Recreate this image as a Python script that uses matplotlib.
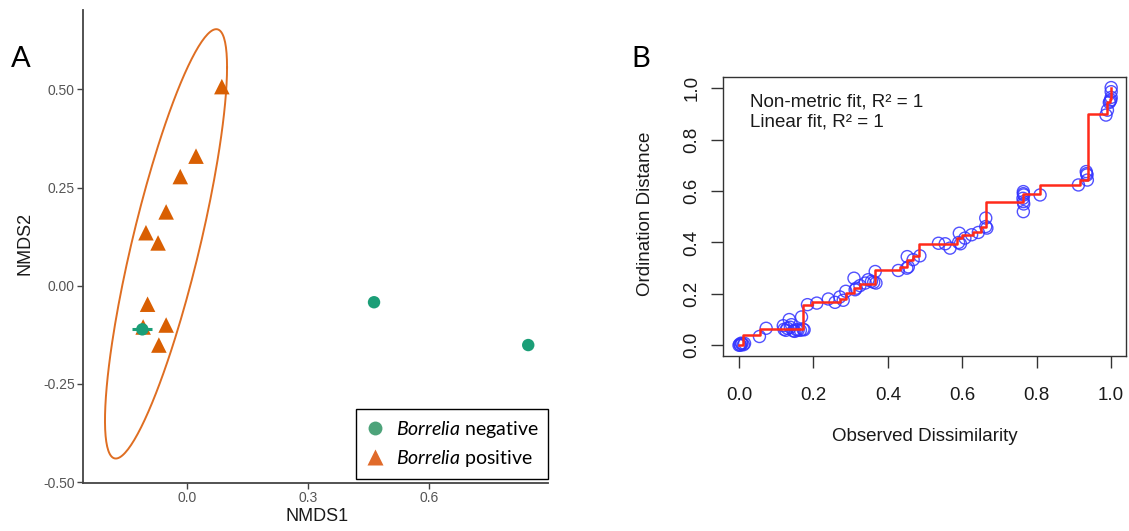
import numpy as np
import matplotlib
matplotlib.use('Agg')
import matplotlib.pyplot as plt
from matplotlib.lines import Line2D

plt.rcParams['font.family'] = ['Liberation Sans', 'DejaVu Sans']
plt.rcParams['mathtext.fontset'] = 'custom'
plt.rcParams['mathtext.rm'] = 'Lato'
plt.rcParams['mathtext.it'] = 'Lato:italic'

# panel A: NMDS scores
neg_x = [-0.110, 0.464, 0.846]
neg_y = [-0.111, -0.042, -0.151]
pos_x = [0.087, 0.023, -0.016, -0.051, -0.101, -0.071, -0.097, -0.051, -0.108, -0.069]
pos_y = [0.507, 0.330, 0.278, 0.188, 0.135, 0.109, -0.047, -0.100, -0.105, -0.151]

# panel B: Shepard diagram
obs_diss = [0.000, 0.002, 0.004, 0.008, 0.012, 0.015, 0.006,
            0.055, 0.073,
            0.119, 0.121, 0.126, 0.130, 0.135, 0.138, 0.141, 0.146, 0.150, 0.155, 0.159, 0.165, 0.168, 0.172, 0.175,
            0.184, 0.209, 0.240, 0.258, 0.271, 0.280, 0.287, 0.309, 0.312, 0.315, 0.325, 0.339, 0.347, 0.356,
            0.366, 0.368, 0.362,
            0.428, 0.451, 0.452, 0.455, 0.468, 0.486,
            0.536, 0.554, 0.567, 0.590, 0.592, 0.595, 0.607, 0.625, 0.643, 0.663, 0.663, 0.666,
            0.764, 0.764, 0.765, 0.763, 0.764, 0.765, 0.764,
            0.809,
            0.912, 0.933, 0.935, 0.936, 0.934,
            0.986, 0.990, 0.995, 0.999, 1.000, 1.000, 1.000, 0.997]
ord_dist = [0.000, 0.004, 0.000, 0.006, 0.002, 0.007, 0.008,
            0.034, 0.066,
            0.076, 0.062, 0.058, 0.066, 0.100, 0.070, 0.080, 0.056, 0.054, 0.060, 0.060, 0.058, 0.110, 0.062, 0.060,
            0.158, 0.164, 0.180, 0.167, 0.188, 0.175, 0.210, 0.261, 0.216, 0.222, 0.232, 0.242, 0.255, 0.249,
            0.287, 0.242, 0.245,
            0.291, 0.300, 0.345, 0.305, 0.333, 0.348,
            0.397, 0.395, 0.378, 0.400, 0.436, 0.395, 0.417, 0.430, 0.439, 0.495, 0.462, 0.456,
            0.598, 0.590, 0.585, 0.572, 0.559, 0.550, 0.520,
            0.585,
            0.624, 0.676, 0.663, 0.643, 0.668,
            0.896, 0.915, 0.945, 0.955, 0.987, 1.003, 0.965, 0.950]
step_x = [0.000, 0.012, 0.056, 0.171, 0.195, 0.271, 0.287, 0.309, 0.325, 0.366, 0.433, 0.451, 0.468,
          0.484, 0.585, 0.600, 0.630, 0.650, 0.663, 0.764, 0.809, 0.917, 0.937, 0.988, 0.997, 1.000]
step_y = [0.000, 0.038, 0.064, 0.158, 0.167, 0.180, 0.203, 0.223, 0.240, 0.291, 0.304, 0.333, 0.348,
          0.394, 0.417, 0.430, 0.440, 0.462, 0.559, 0.588, 0.623, 0.643, 0.899, 0.948, 0.960, 1.000]

green = '#1B9E77'
orange = '#D95F02'


def cov_trob(pts, nu=5, maxit=25, tol=0.01):
    # robust t covariance like MASS::cov.trob
    n, p = pts.shape
    loc = pts.mean(0)
    w = np.ones(n)
    for i in range(maxit):
        w0 = w
        X = pts - loc
        U, d, Vt = np.linalg.svd(np.sqrt(w / w.sum())[:, None] * X, full_matrices=False)
        wX = X @ Vt.T / d
        Q = (wX ** 2).sum(1)
        w = (nu + p) / (nu + Q)
        loc = (w[:, None] * pts).sum(0) / w.sum()
        if np.all(np.abs(w - w0) < tol):
            break
    cov = (w[:, None] * X).T @ X / n
    return loc, cov


fig = plt.figure(figsize=(11.29, 5.31), dpi=100)

# ---- panel A ----
axA = fig.add_axes([0.0735, 0.0913, 0.4119, 0.8898])
pts = np.column_stack([pos_x, pos_y])
center, shape = cov_trob(pts)
radius = np.sqrt(2 * 4.256495)  # qf(0.95, 2, n-1) with n = 10
t = np.linspace(0, 2 * np.pi, 200)
circle = np.column_stack([np.cos(t), np.sin(t)])
L = np.linalg.cholesky(shape)
ell = center + radius * circle @ L.T
axA.plot(ell[:, 0], ell[:, 1], color='#DF6E22', lw=1.4, zorder=1)

axA.scatter(pos_x, pos_y, marker='^', s=125, color=orange, edgecolors='none', zorder=2)
axA.scatter(neg_x, neg_y, marker='o', s=80, color=green, edgecolors='none', zorder=3)
axA.plot(neg_x[0], neg_y[0], marker='_', ms=14, mew=2.2, color=green, zorder=4)

axA.set_xlim(-0.257, 0.895)
axA.set_ylim(-0.501, 0.702)
axA.set_xticks([0.0, 0.3, 0.6])
axA.set_xticklabels(['0.0', '0.3', '0.6'])
axA.set_yticks([-0.5, -0.25, 0.0, 0.25, 0.5])
axA.set_yticklabels(['-0.50', '-0.25', '0.00', '0.25', '0.50'])
for s in ['top', 'right']:
    axA.spines[s].set_visible(False)
for s in ['left', 'bottom']:
    axA.spines[s].set_color('#444444')
    axA.spines[s].set_linewidth(1.3)
axA.tick_params(length=4, width=1, color='#444444', labelcolor='#555555', labelsize=10, pad=2)
axA.set_xlabel('NMDS1', fontsize=13, color='#1a1a1a', va='center')
axA.set_ylabel('NMDS2', fontsize=13, color='#1a1a1a', va='center')
axA.xaxis.set_label_coords(0.5026, -0.0724)
axA.yaxis.set_label_coords(-0.1247, 0.507)

handles = [Line2D([], [], marker='o', ls='none', ms=10, color='#4DA37A', mec='none'),
           Line2D([], [], marker='^', ls='none', ms=12, color='#E06A2A', mec='none')]
leg = axA.legend(handles, [r'$\it{Borrelia}$ negative', r'$\it{Borrelia}$ positive'],
                 loc='lower right', bbox_to_anchor=(1.0, 0.0075), borderaxespad=0,
                 prop={'family': 'Lato', 'size': 14}, fancybox=False, framealpha=1,
                 edgecolor='black', handletextpad=0.55, handlelength=1.0, labelspacing=0.42,
                 borderpad=0.5)
leg.get_frame().set_linewidth(1.0)

fig.text(21 / 1129, 1 - 59 / 531, 'A', fontsize=21, family='Lato', ha='center', va='center')
fig.text(641 / 1129, 1 - 59 / 531, 'B', fontsize=21, family='Lato', ha='center', va='center')

# ---- panel B ----
axB = fig.add_axes([0.6407, 0.3305, 0.3567, 0.5239])
axB.scatter(obs_diss, ord_dist, s=75, facecolors='none', edgecolors='#3333FF', linewidths=1.0,
            alpha=0.85, zorder=2)
axB.plot(step_x, step_y, drawstyle='steps-post', color='#FF2A1A', lw=1.8, zorder=3)
axB.set_xlim(-0.042, 1.040)
axB.set_ylim(-0.040, 1.043)
axB.set_xticks([0.0, 0.2, 0.4, 0.6, 0.8, 1.0])
axB.set_xticklabels(['0.0', '0.2', '0.4', '0.6', '0.8', '1.0'])
axB.set_yticks([0.0, 0.2, 0.4, 0.6, 0.8, 1.0])
axB.set_yticklabels(['0.0', '0.2', '0.4', '0.6', '0.8', '1.0'], rotation=90, va='center')
for s in axB.spines.values():
    s.set_color('#333333')
    s.set_linewidth(1.0)
axB.tick_params(length=8.4, width=1, color='#333333', labelsize=13.5, labelcolor='#1a1a1a')
axB.tick_params(axis='x', pad=14)
axB.tick_params(axis='y', pad=8)
axB.set_xlabel('Observed Dissimilarity', fontsize=13.5, color='#1a1a1a', va='center')
axB.set_ylabel('Ordination Distance', fontsize=13.5, color='#1a1a1a', va='center')
axB.xaxis.set_label_coords(0.501, -0.292)
axB.yaxis.set_label_coords(-0.194, 0.511)
axB.text(0.0663, 0.894, 'Non-metric fit, R\u00b2 = 1', transform=axB.transAxes, fontsize=13.5,
         va='baseline', ha='left', color='#1a1a1a')
axB.text(0.0663, 0.822, 'Linear fit, R\u00b2 = 1', transform=axB.transAxes, fontsize=13.5,
         va='baseline', ha='left', color='#1a1a1a')

fig.savefig('out.png', dpi=100)
